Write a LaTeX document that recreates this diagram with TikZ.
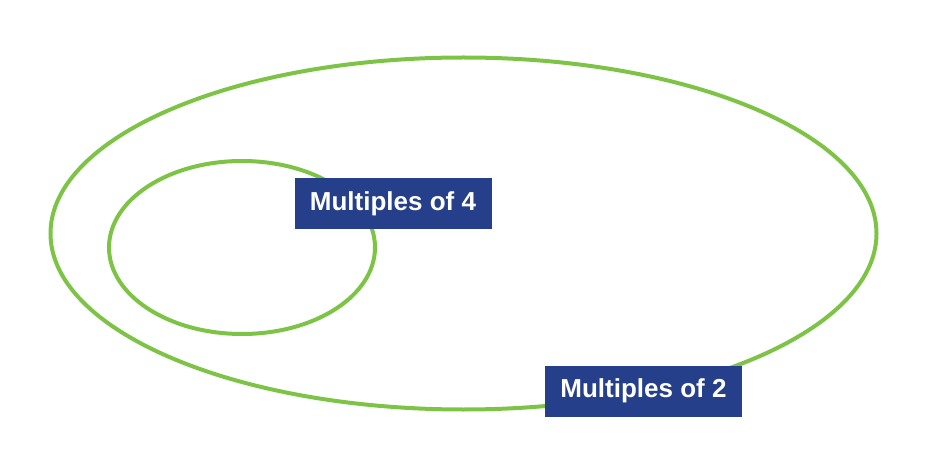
\documentclass[tikz,border=0pt]{standalone}
\usepackage{fontspec}
\usetikzlibrary{shapes.geometric}
\setmainfont{Liberation Sans}
\definecolor{ringgreen}{HTML}{7DC446}
\definecolor{labelblue}{HTML}{253F8A}
\tikzset{
  ring/.style={draw=ringgreen, line width=4pt, ellipse, inner sep=0pt},
  setlabel/.style={fill=labelblue, text=white, font=\bfseries\fontsize{26}{30}\selectfont,
    minimum width=197pt, minimum height=51pt, inner sep=0pt}
}
\begin{document}
\begin{tikzpicture}[x=1pt,y=-1pt]
\useasboundingbox (0,0) rectangle (931,454);
\node[ring, minimum width=826pt, minimum height=352pt] (outer) at (463.5,233.5) {};
\node[ring, minimum width=266pt, minimum height=173pt] (inner) at (242,247.5) {};
\node[setlabel] (four) at (393,204) {Multiples of 4};
\node[setlabel] (two) at (643.5,391) {Multiples of 2};
\end{tikzpicture}
\end{document}
